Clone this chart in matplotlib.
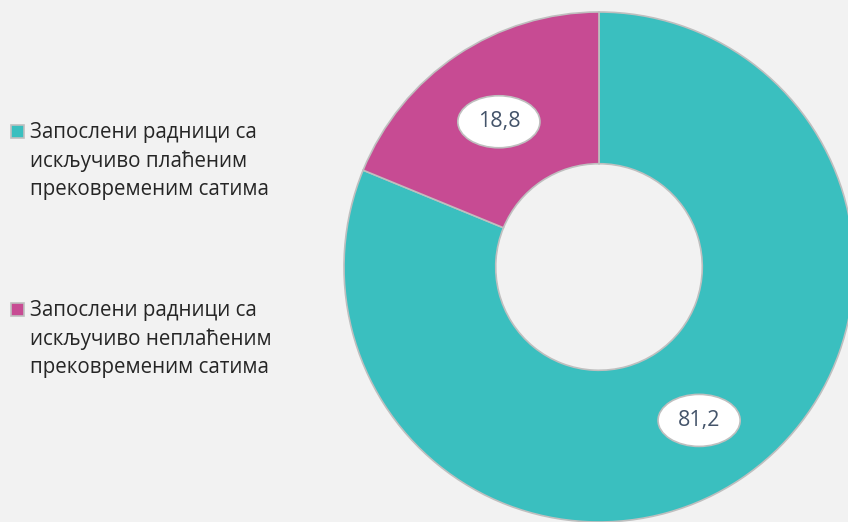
import matplotlib
matplotlib.use("Agg")
import matplotlib.pyplot as plt
from matplotlib.patches import Ellipse, Rectangle
import numpy as np

categories = ["Запослени радници са\nискључиво плаћеним\nпрековременим сатима",
              "Запослени радници са\nискључиво неплаћеним\nпрековременим сатима"]
values = [81.2, 18.8]
value_labels = ["81,2", "18,8"]
colors = ["#3abfbf", "#c74b93"]

plt.rcParams['font.family'] = ['Open Sans', 'DejaVu Sans']

W, H = 848.0, 522.0
fig = plt.figure(figsize=(W / 100, H / 100), dpi=100, facecolor="#f2f2f2")
ax = fig.add_axes([0, 0, 1, 1])
ax.set_facecolor("#f2f2f2")
ax.axis("off")

R_px = 255.0
cx, cy = 599.0, 267.0

wedges, _ = ax.pie(values, colors=colors, startangle=90, counterclock=False,
                   radius=1.0, wedgeprops=dict(width=0.595, edgecolor="#bfbfbf", linewidth=1.2))
ax.set_aspect('auto')
ax.set_xlim(-cx / R_px, (W - cx) / R_px)
ax.set_ylim(-(H - cy) / R_px, cy / R_px)

for w, lab in zip(wedges, value_labels):
    ang = np.deg2rad((w.theta1 + w.theta2) / 2)
    r = 0.705
    x, y = r * np.cos(ang), r * np.sin(ang) - 0.016
    ax.add_patch(Ellipse((x, y), 0.322, 0.204, facecolor="white", edgecolor="#bfbfbf", lw=1.2, zorder=5))
    ax.text(x, y, lab, ha="center", va="center", fontsize=15.5, color="#44546a", zorder=6)

# legend (drawn manually so the marker aligns with the first text line)
leg_y = [131, 309]  # pixel y of first line centre
for c, lab, yy in zip(colors, categories, leg_y):
    sq = 13
    fig.add_artist(Rectangle((11 / W, 1 - (yy + sq / 2) / H), sq / W, sq / H,
                             transform=fig.transFigure, facecolor=c,
                             edgecolor="#bfbfbf", lw=1.2))
    fig.text(30 / W, 1 - (yy - 9) / H, lab, ha="left", va="top",
             fontsize=14.8, color="#262626", linespacing=1.46)

fig.savefig("out.png", dpi=100, facecolor=fig.get_facecolor())
